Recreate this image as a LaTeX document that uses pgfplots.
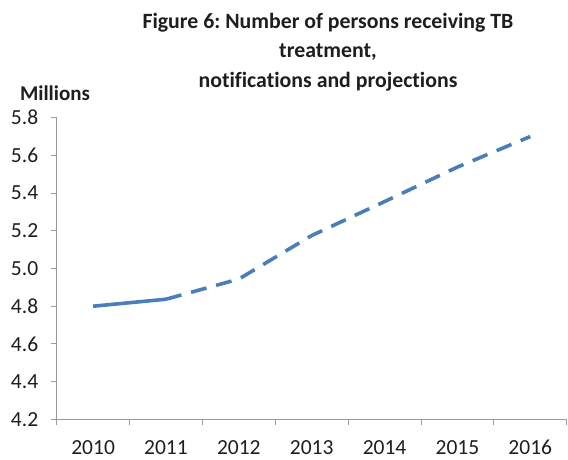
\documentclass[border=0pt]{standalone}
\usepackage{fontspec}
\setmainfont[Ligatures=NoCommon]{Carlito}
\usepackage{pgfplots}
\pgfplotsset{compat=1.18}
\definecolor{xlblue}{HTML}{4A7EBB}
\definecolor{axgray}{HTML}{9A9A9A}
\definecolor{txt}{HTML}{1E1E1E}
\frenchspacing
\begin{document}
\begin{tikzpicture}[x=1pt,y=1pt]
\useasboundingbox (-56.7,-39.7) rectangle (511.3,419.3);
\begin{axis}[
  at={(0,0)}, anchor=south west, scale only axis,
  width=510pt, height=301.6pt,
  xmin=-0.5, xmax=6.5, ymin=4.2, ymax=5.8,
  axis x line*=bottom, axis y line*=left,
  axis line style={axgray, line width=0.9pt},
  xtick={0,...,6},
  xticklabels={2010,2011,2012,2013,2014,2015,2016},
  major x tick style={draw=none},
  minor xtick={-0.5,0.5,...,6.5},
  minor x tick style={axgray, line width=0.9pt},
  minor tick length=6pt,
  ytick={4.2,4.4,...,5.8},
  y tick style={axgray, line width=0.9pt},
  major tick length=6pt,
  tick align=outside,
  tick label style={font=\fontsize{21.5}{23}\selectfont, text=txt},
  xticklabel style={anchor=base, yshift=-29.5pt, inner sep=0.5pt, text depth=0pt},
  yticklabel style={xshift=-9pt},
  /pgf/number format/assume math mode=true,
  yticklabel={\pgfmathprintnumber[fixed,fixed zerofill,precision=1]{\tick}},
  clip=false,
]
\addplot[xlblue, line width=3.6pt] coordinates {(0,4.800) (1,4.837)};
\addplot[xlblue, line width=3.6pt, dash pattern=on 16pt off 10pt] coordinates {
  (1,4.837) (2,4.944) (3,5.175) (4,5.355) (5,5.538) (6,5.700)};
\end{axis}
\node[font=\bfseries\fontsize{21}{23}\selectfont, text=txt] at (-1.7,326.3) {Millions};
\node[font=\bfseries\fontsize{21.8}{29.5}\selectfont, text=txt, align=center] at (271.3,367.6)
  {Figure 6: Number of persons receiving TB\\treatment,\\notifications and projections};
\end{tikzpicture}
\end{document}
